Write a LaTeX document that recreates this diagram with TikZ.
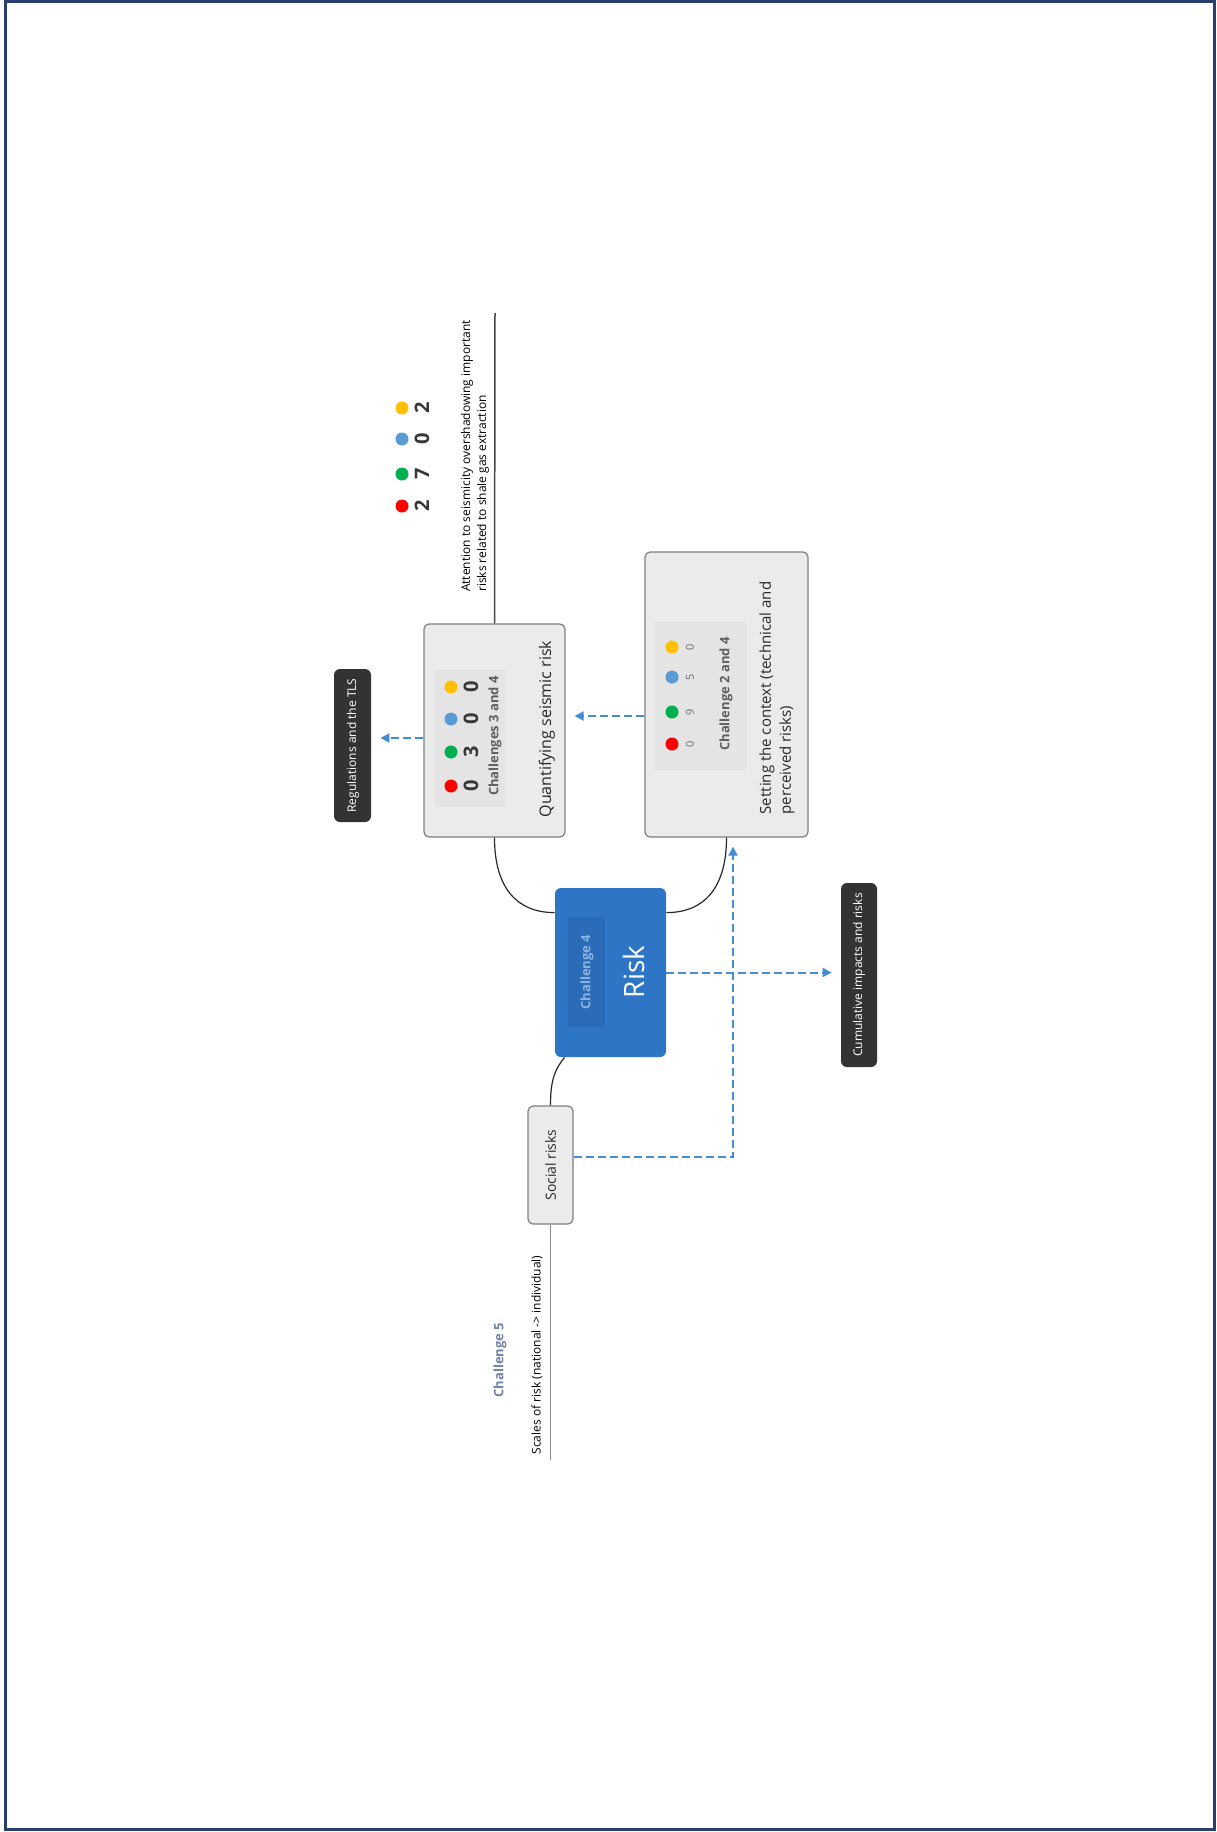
\documentclass[tikz,border=0pt]{standalone}
\usepackage{fontspec}
\setmainfont{Open Sans}
\usetikzlibrary{arrows.meta,calc}

\begin{document}
\begin{tikzpicture}[x=0.5pt,y=0.5pt,yscale=-1,xscale=1,
  graybox/.style={draw={rgb, 255:red, 127; green, 127; blue, 127},fill={rgb, 255:red, 235; green, 235; blue, 235},rounded corners=2.5pt,line width=0.6pt,inner sep=0pt},
  panel/.style={fill={rgb, 255:red, 228; green, 228; blue, 228},inner sep=0pt},
  darkbox/.style={fill={rgb, 255:red, 51; green, 51; blue, 51},rounded corners=3pt,inner sep=0pt},
  vtext/.style={rotate=90,inner sep=0pt,font=\fontsize{6}{8}\selectfont},
  dot/.style={circle,inner sep=0pt,minimum size=6.5pt},
  link/.style={line width=0.6pt,color={rgb, 255:red, 40; green, 40; blue, 40}},
  flow/.style={draw={rgb, 255:red, 68; green, 140; blue, 212},line width=1pt,dash pattern={on 4pt off 2pt},-{Triangle[length=4.5pt,width=4.5pt]},shorten >=4.5pt}
]
\useasboundingbox (0,0) rectangle (1216,1832);

%Frame
\draw [color={rgb, 255:red, 43; green, 63; blue, 110}, line width=1.5pt] (5,1) rectangle (1214,1829);

\definecolor{dotred}{RGB}{255,0,0}
\definecolor{dotgreen}{RGB}{0,176,80}
\definecolor{dotblue}{RGB}{91,155,213}
\definecolor{dotyellow}{RGB}{255,192,0}

%Boxes
\node [graybox, minimum width=70.5pt, minimum height=106.5pt] (qbox) at (494.5,730.5) {};
\node [graybox, minimum width=81.5pt, minimum height=142.5pt] (sbox) at (726.5,694.5) {};
\node [fill={rgb, 255:red, 46; green, 117; blue, 198}, rounded corners=3pt, minimum width=55.5pt, minimum height=84.5pt, inner sep=0pt] (risk) at (610.5,972.5) {};
\node [graybox, minimum width=22.5pt, minimum height=59pt] (social) at (550.5,1165) {};
\node [darkbox, minimum width=18.5pt, minimum height=76.5pt] (reg) at (352.5,745.5) {};
\node [darkbox, minimum width=18pt, minimum height=92pt] (cum) at (859,975) {};

%Panels
\node [panel, minimum width=35pt, minimum height=68.5pt] (qpanel) at (470,738.5) {};
\node [panel, minimum width=46pt, minimum height=74pt] (spanel) at (701,696) {};
\node [fill={rgb, 255:red, 42; green, 108; blue, 184}, minimum width=18.5pt, minimum height=55pt, inner sep=0pt] (rpanel) at (586.5,972) {};

%Legend: attention
\foreach \c/\n/\y in {dotred/2/506, dotgreen/7/474, dotblue/0/439, dotyellow/2/408}{
  \node [dot, fill=\c] (a-\c) at (402,\y) {};
  \node [vtext, font=\fontsize{10}{12}\bfseries, color={rgb, 255:red, 55; green, 55; blue, 55}] (an-\c) at (422,\y) {\n};
}

%Legend: quantifying
\foreach \c/\n/\y in {dotred/0/786, dotgreen/3/752, dotblue/0/719, dotyellow/0/687}{
  \node [dot, fill=\c] (q-\c) at (451,\y) {};
  \node [vtext, font=\fontsize{10}{12}\bfseries, color={rgb, 255:red, 55; green, 55; blue, 55}] (qn-\c) at (471,\y) {\n};
}

%Legend: setting
\foreach \c/\n/\y in {dotred/0/744, dotgreen/9/712, dotblue/5/677, dotyellow/0/647}{
  \node [dot, fill=\c] (s-\c) at (672,\y) {};
  \node [vtext, font=\fontsize{5.5}{7}\selectfont, color={rgb, 255:red, 110; green, 110; blue, 110}] (sn-\c) at (690,\y) {\n};
}

%Texts
\node [vtext, align=left] (attn) at (475,456) {Attention to seismicity overshadowing important\\risks related to shale gas extraction};
\node [vtext, font=\fontsize{6.5}{8}\bfseries, color={rgb, 255:red, 95; green, 95; blue, 95}] (qchal) at (495,736) {Challenges 3 and 4};
\node [vtext, font=\fontsize{8}{10}\selectfont, color={rgb, 255:red, 40; green, 40; blue, 40}] (qtitle) at (547,729) {Quantifying seismic risk};
\node [vtext, font=\fontsize{6.5}{8}\bfseries, color={rgb, 255:red, 95; green, 95; blue, 95}] (schal) at (726,694) {Challenge 2 and 4};
\node [vtext, align=left, font=\fontsize{7.5}{10}\selectfont, color={rgb, 255:red, 40; green, 40; blue, 40}] (stitle) at (777,698) {Setting the context (technical and\\perceived risks)};
\node [vtext, font=\fontsize{6.5}{8}\bfseries, color={rgb, 255:red, 140; green, 178; blue, 222}] (rchal) at (587,972) {Challenge 4};
\node [vtext, font=\fontsize{14}{16}\selectfont, color=white] (rtitle) at (634,972) {Risk};
\node [vtext, font=\fontsize{7}{8}\selectfont, color={rgb, 255:red, 40; green, 40; blue, 40}] (stext) at (550.5,1165) {Social risks};
\node [vtext, color=white] (regtext) at (353,745.5) {Regulations and the TLS};
\node [vtext, color=white] (cumtext) at (859,975) {Cumulative impacts and risks};
\node [vtext, font=\fontsize{6.5}{8}\bfseries, color={rgb, 255:red, 110; green, 130; blue, 165}] (chal5) at (500,1360) {Challenge 5};
\node [vtext] (scales) at (537,1355) {Scales of risk (national -> individual)};

%Lines
\coordinate (atop) at (495,313);
\coordinate (sbottom) at (550.5,1460);
\draw [link, line width=0.75pt, color={rgb, 255:red, 70; green, 70; blue, 70}] (atop) -- (qbox.north);
\draw [link, line width=0.75pt, color={rgb, 255:red, 140; green, 140; blue, 140}] (social.south) -- (sbottom);

%Curves to Risk
\draw [link] (qbox.south) .. controls +(0,50) and +(-38,0) .. ($(risk.north west)+(0,25)$);
\draw [link] (sbox.south) .. controls +(0,50) and +(38,0) .. ($(risk.north east)+(0,25)$);
\draw [link] ($(risk.south west)+(10,0)$) .. controls +(-10,12) and +(0,-25) .. (social.north);

%Dashed arrows
\draw [flow] (qbox.west |- 0,738) -- (reg.east |- 0,738);
\draw [flow] (sbox.west |- 0,716) -- (qbox.east |- 0,716);
\draw [flow] (risk.east) -- (risk.east -| cum.west);
\draw [flow] (social.east |- 0,1157) -| ($(sbox.south)+(6.5,0)$);

\end{tikzpicture}
\end{document}
